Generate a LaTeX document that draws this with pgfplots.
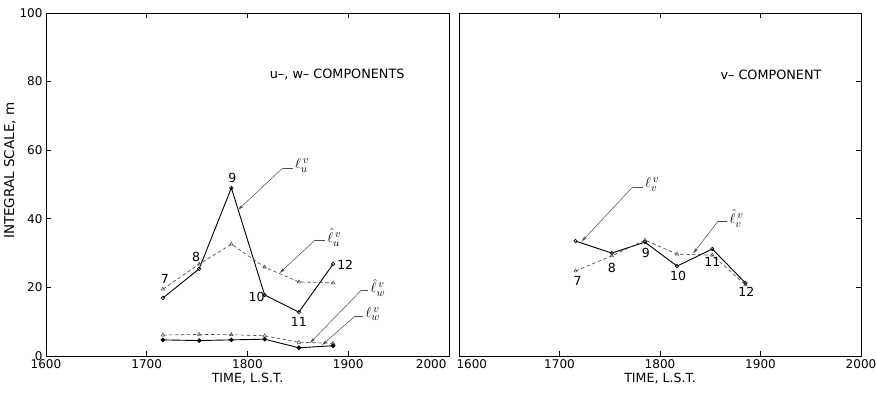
\documentclass[border=0pt]{standalone}
\usepackage{pgfplots}
\pgfplotsset{compat=1.18}
\usepackage{fontspec}
\setmainfont{DejaVu Sans}
\usetikzlibrary{arrows.meta}
\tikzset{
  leader/.style={black!70, line width=0.5pt, -{Stealth[length=6pt,width=3pt]}},
  leaderh/.style={black!70, line width=0.5pt},
  numlab/.style={font=\fontsize{12.5}{14}\selectfont, inner sep=0pt},
  symlab/.style={anchor=west, inner sep=1pt, font=\fontsize{15}{16}\selectfont},
}
\pgfplotsset{
  base/.style={scale only axis, height=343pt,
    xmin=1600, xmax=2000, ymin=0, ymax=100,
    ytick={0,20,...,100},
    tick align=inside, major tick length=5pt,
    xtick pos=both, xticklabel pos=lower,
    axis line style={line width=0.8pt},
    tick style={black, line width=0.6pt},
    /pgf/number format/assume math mode=true,
    /pgf/number format/1000 sep={},
    ticklabel style={font=\fontsize{12}{14}\selectfont},
    xlabel={TIME, L.S.T.},
    xlabel style={yshift=2pt, font=\fontsize{12.6}{14}\selectfont},
    clip=false},
  solidser/.style={black, line width=0.9pt, mark=o, mark size=1.8pt,
    mark options={solid, line width=0.6pt, fill=white}},
  dashser/.style={black!75, line width=0.6pt, dash pattern=on 3.5pt off 2.5pt, mark=triangle, mark size=2pt,
    mark options={solid, line width=0.5pt, fill=white}},
  filledser/.style={black, line width=0.9pt, mark=*, mark size=1.8pt,
    mark options={solid, fill=black}},
}
\begin{document}
\begin{tikzpicture}[font=\fontsize{12.8}{14}\selectfont]
\path[use as bounding box] (-46pt,-39pt) rectangle (831pt,356pt);
% ---------- left panel ----------
\begin{axis}[base, width=403pt, at={(0pt,0pt)}, anchor=south west,
  xtick={1600,1700,1800,1900},
  extra x ticks={2000},
  extra x tick style={xticklabel style={anchor=north east, xshift=1pt}},
  ytick pos=left,
  ylabel={INTEGRAL SCALE, m},
  ylabel style={at={(ticklabel cs:0.54)}, yshift=-3pt, font=\fontsize{13.5}{15}\selectfont}]
\addplot[solidser] coordinates {(1716,16.9)(1752,25.4)(1784,49.0)(1817,17.8)(1851,12.8)(1885,26.8)};
\addplot[dashser] coordinates {(1716,19.5)(1752,26.8)(1784,32.6)(1817,25.9)(1851,21.6)(1885,21.3)};
\addplot[dashser] coordinates {(1716,6.1)(1752,6.3)(1784,6.2)(1817,5.9)(1851,4.0)(1885,3.7)};
\addplot[filledser] coordinates {(1716,4.7)(1752,4.5)(1784,4.7)(1817,4.9)(1851,2.4)(1885,3.0)};
\node[numlab] at (axis cs:1718,22.4) {7};
\node[numlab] at (axis cs:1749,28.9) {8};
\node[numlab] at (axis cs:1785,51.9) {9};
\node[numlab] at (axis cs:1809,17.2) {10};
\node[numlab] at (axis cs:1851,9.9) {11};
\node[numlab] at (axis cs:1897,26.5) {12};
\node[anchor=west, inner sep=0pt] at (axis cs:1822,82) {u\textendash, w\textendash\ COMPONENTS};
% leaders
\draw[leaderh] (axis cs:1845,54.8) -- (axis cs:1835,54.8);
\draw[leader] (axis cs:1835,54.8) -- (axis cs:1790.6,42.6);
\node[symlab] at (axis cs:1846,55.5) {$\ell^{\,v}_{u}$};
\draw[leaderh] (axis cs:1877,33.8) -- (axis cs:1867,33.8);
\draw[leader] (axis cs:1867,33.8) -- (axis cs:1832,24.2);
\node[symlab] at (axis cs:1878,34.5) {$\hat{\ell}^{\,v}_{u}$};
\draw[leaderh] (axis cs:1920,19.2) -- (axis cs:1913,19.2);
\draw[leader] (axis cs:1913,19.2) -- (axis cs:1862,3.8);
\node[symlab] at (axis cs:1921,19.9) {$\hat{\ell}^{\,v}_{w}$};
\draw[leaderh] (axis cs:1915,11.7) -- (axis cs:1907,11.7);
\draw[leader] (axis cs:1907,11.7) -- (axis cs:1874,3.2);
\node[symlab] at (axis cs:1916,12.2) {$\ell^{\,v}_{w}$};
\end{axis}
% ---------- right panel ----------
\begin{axis}[base, width=402pt, at={(413pt,0pt)}, anchor=south west,
  xtick={1700,1800,1900,2000},
  extra x ticks={1600},
  extra x tick style={xticklabel style={anchor=north west, xshift=-6pt}},
  ytick pos=right, yticklabels={}]
\addplot[solidser] coordinates {(1716,33.5)(1752,30.0)(1785,33.2)(1817,26.2)(1852,31.2)(1885,21.3)};
\addplot[dashser] coordinates {(1716,24.8)(1752,29.2)(1785,33.8)(1817,29.7)(1852,29.4)(1885,20.7)};
\node[numlab] at (axis cs:1718,21.9) {7};
\node[numlab] at (axis cs:1752,25.7) {8};
\node[numlab] at (axis cs:1786,30.0) {9};
\node[numlab] at (axis cs:1818,23.2) {10};
\node[numlab] at (axis cs:1852,27.4) {11};
\node[numlab] at (axis cs:1886,18.7) {12};
\node[anchor=west, inner sep=0pt] at (axis cs:1860,82) {v\textendash\ COMPONENT};
\draw[leaderh] (axis cs:1783,49.3) -- (axis cs:1773,49.3);
\draw[leader] (axis cs:1773,49.3) -- (axis cs:1722,33.4);
\node[symlab] at (axis cs:1784,50) {$\ell^{\,v}_{v}$};
\draw[leaderh] (axis cs:1867,39.4) -- (axis cs:1858,39.4);
\draw[leader] (axis cs:1858,39.4) -- (axis cs:1833,29.9);
\node[symlab] at (axis cs:1868,40.1) {$\hat{\ell}^{\,v}_{v}$};
\end{axis}
\end{tikzpicture}
\end{document}
